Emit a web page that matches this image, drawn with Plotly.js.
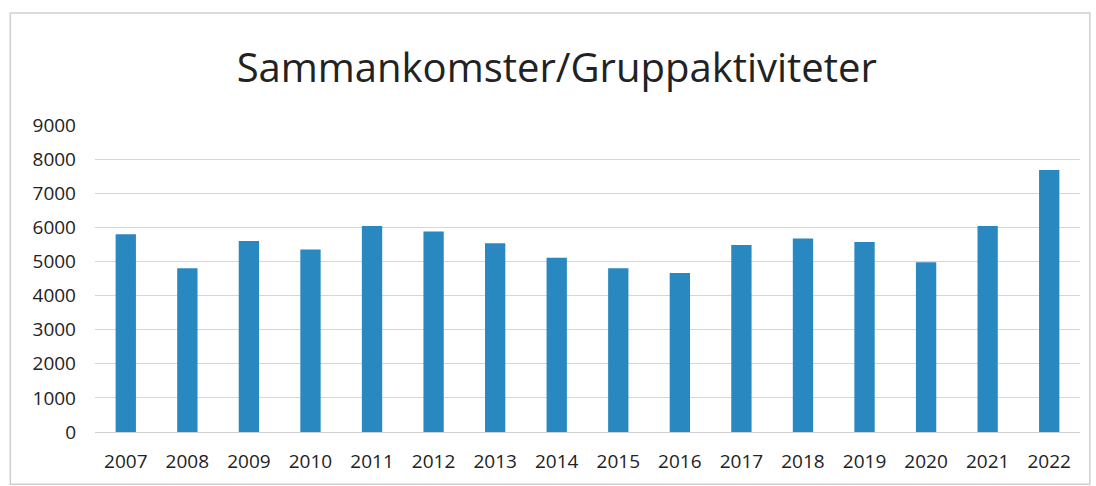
<!DOCTYPE html>
<html>
<head>
<meta charset="utf-8">
<script src="https://cdn.plot.ly/plotly-3.0.1.min.js"></script>
<style>html,body{margin:0;padding:0;background:#fff;}#chart{width:1096px;height:486px;}</style>
</head>
<body>
<div id="chart"></div>
<script>
var years = ["2007","2008","2009","2010","2011","2012","2013","2014","2015","2016","2017","2018","2019","2020","2021","2022"];
var values = [5800,4800,5600,5350,6040,5880,5530,5110,4800,4660,5480,5670,5570,4980,6040,7680];
var yTicks = [0,1000,2000,3000,4000,5000,6000,7000,8000,9000];
var chartTitle = "Sammankomster/Gruppaktiviteter";

var font = "Open Sans, Noto Sans, sans-serif";
var trace = {
  type: "bar",
  x: years,
  y: values,
  marker: {color: "#2a88c0"},
  hoverinfo: "x+y"
};
var layout = {
  width: 1096, height: 486,
  margin: {l: 95, r: 16, t: 125, b: 54},
  paper_bgcolor: "#fff", plot_bgcolor: "#fff",
  bargap: 0.67,
  showlegend: false,
  title: {text: chartTitle, x: 0.508, xanchor: "center", y: 0.86, yanchor: "middle",
          font: {family: font, size: 40, color: "#222"}},
  xaxis: {type: "category", showgrid: false, showline: true, linecolor: "#d0d0d0", linewidth: 1,
          ticks: "", tickfont: {family: font, size: 19, color: "#222"}, ticklabelstandoff: 12},
  yaxis: {range: [0, 9000], tickvals: yTicks, ticktext: yTicks.map(String), showgrid: true,
          gridcolor: "#d6d6d6", gridwidth: 1, zeroline: false, showline: false, ticks: "",
          tickfont: {family: font, size: 19, color: "#222"}, ticklabelstandoff: 18},
  shapes: [{type: "rect", xref: "paper", yref: "paper",
            x0: -0.086, x1: 1.01, y0: -0.17, y1: 1.365,
            line: {color: "#cfcfcf", width: 1.5}, fillcolor: "rgba(0,0,0,0)"}]
};
Plotly.newPlot("chart", [trace], layout, {displayModeBar: false, staticPlot: true});
</script>
</body>
</html>
